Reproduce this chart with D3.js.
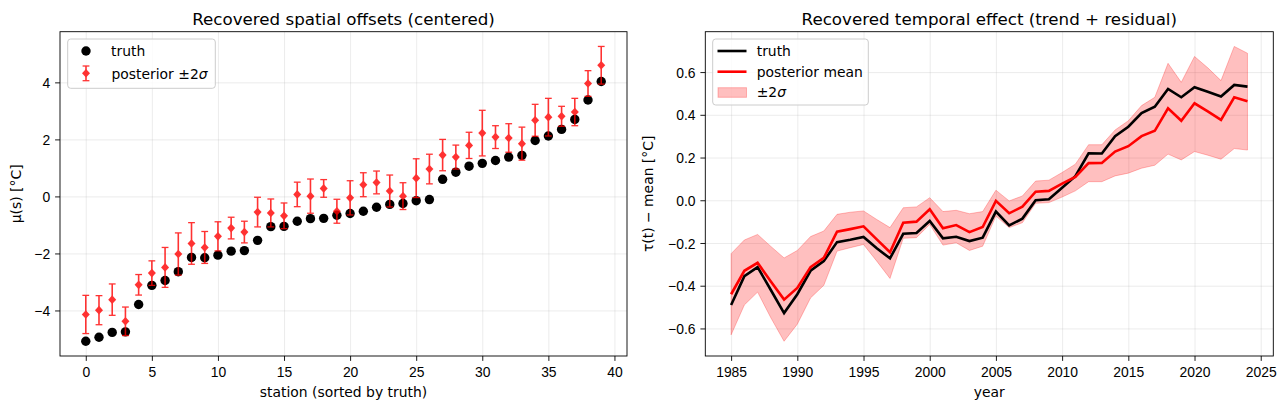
<!DOCTYPE html>
<html>
<head>
<meta charset="utf-8">
<script src="https://cdn.jsdelivr.net/npm/d3@7"></script>
<style>
  body { margin: 0; background: #fff; }
  svg { font-family: "DejaVu Sans", sans-serif; }
  .grid line { stroke: #b0b0b0; stroke-opacity: 0.3; stroke-width: 0.8px; }
  .grid path { stroke: none; }
  .axis text { font-size: 13.9px; fill: #000; }
  .axis path, .axis line { stroke: #000; stroke-width: 0.9px; }
</style>
</head>
<body>
<script>
// ---- left panel data: stations sorted by truth ----
var stations = d3.range(0, 40);
var muTruth = [-5.08, -4.94, -4.77, -4.75, -3.79, -3.12, -2.95, -2.64, -2.14, -2.15,
               -2.06, -1.92, -1.90, -1.54, -1.06, -1.05, -0.87, -0.78, -0.77, -0.66,
               -0.60, -0.52, -0.38, -0.28, -0.25, -0.15, -0.11, 0.60, 0.85, 1.06,
               1.16, 1.26, 1.38, 1.44, 1.96, 2.12, 2.35, 2.70, 3.38, 4.03];
var muPost = [-4.14, -3.99, -3.62, -4.38, -3.10, -2.69, -2.49, -2.02, -1.65, -1.79,
              -1.40, -1.11, -1.25, -0.55, -0.58, -0.68, 0.07, 0.01, 0.28, -0.52,
              -0.05, 0.41, 0.49, 0.19, 0.01, 0.64, 0.96, 1.45, 1.38, 1.79,
              2.22, 2.08, 2.05, 1.85, 2.67, 2.78, 2.81, 2.96, 3.96, 4.60];
var muErr2 = [0.67, 0.51, 0.55, 0.50, 0.36, 0.43, 0.70, 0.74, 0.73, 0.56,
              0.51, 0.38, 0.38, 0.52, 0.49, 0.45, 0.43, 0.60, 0.31, 0.42,
              0.60, 0.42, 0.40, 0.56, 0.47, 0.68, 0.52, 0.55, 0.42, 0.46,
              0.80, 0.40, 0.50, 0.58, 0.56, 0.66, 0.35, 0.48, 0.45, 0.66];
var xTicksL = [0, 5, 10, 15, 20, 25, 30, 35, 40];
var yTicksL = [-4, -2, 0, 2, 4];

// ---- right panel data: temporal effect ----
var years = d3.range(1985, 2025);
var tauTruth = [-0.490, -0.355, -0.313, -0.420, -0.528, -0.440, -0.330, -0.285, -0.196, -0.185,
                -0.172, -0.225, -0.272, -0.157, -0.153, -0.097, -0.178, -0.171, -0.191, -0.175,
                -0.053, -0.118, -0.086, 0.000, 0.005, 0.059, 0.113, 0.220, 0.219, 0.300,
                0.344, 0.408, 0.438, 0.521, 0.482, 0.529, 0.508, 0.486, 0.540, 0.532];
var tauMean = [-0.440, -0.330, -0.293, -0.380, -0.465, -0.410, -0.313, -0.270, -0.147, -0.135,
               -0.122, -0.183, -0.243, -0.105, -0.100, -0.042, -0.131, -0.116, -0.149, -0.125,
               -0.003, -0.061, -0.030, 0.040, 0.044, 0.078, 0.109, 0.174, 0.175, 0.228,
               0.253, 0.300, 0.325, 0.430, 0.372, 0.454, 0.416, 0.376, 0.482, 0.463];
var tauUpper = [-0.250, -0.186, -0.160, -0.216, -0.270, -0.235, -0.170, -0.144, -0.066, -0.056,
                -0.050, -0.090, -0.128, -0.035, -0.031, 0.012, -0.053, -0.047, -0.063, -0.053,
                0.047, -0.003, 0.020, 0.090, 0.094, 0.130, 0.169, 0.260, 0.260, 0.329,
                0.372, 0.443, 0.482, 0.641, 0.552, 0.673, 0.620, 0.560, 0.720, 0.688];
var tauLower = [-0.630, -0.490, -0.430, -0.550, -0.660, -0.580, -0.457, -0.398, -0.238, -0.222,
                -0.207, -0.285, -0.366, -0.178, -0.175, -0.113, -0.210, -0.199, -0.235, -0.215,
                -0.074, -0.128, -0.105, -0.014, -0.011, 0.015, 0.044, 0.087, 0.087, 0.114,
                0.127, 0.150, 0.164, 0.216, 0.189, 0.228, 0.211, 0.192, 0.242, 0.235];
var xTicksR = [1985, 1990, 1995, 2000, 2005, 2010, 2015, 2020, 2025];
var yTicksR = [-0.6, -0.4, -0.2, 0.0, 0.2, 0.4, 0.6];

var W = 1287, H = 409;
var svg = d3.select("body").append("svg").attr("width", W).attr("height", H);

// matplotlib style 5% margins
function padded(lo, hi) { var m = (hi - lo) * 0.05; return [lo - m, hi + m]; }

function panel(box, xdom, ydom, xticks, yticks, yfmt, title, xlabel, ylabel, ylabX) {
    var p = {};
    p.x = d3.scaleLinear().domain(xdom).range([box.l, box.r]);
    p.y = d3.scaleLinear().domain(ydom).range([box.b, box.t]);
    p.g = svg.append("g");
    var h = box.b - box.t, w = box.r - box.l;

    // grid
    p.g.append("g").attr("class", "grid")
        .attr("transform", "translate(0," + box.b + ")")
        .call(d3.axisBottom(p.x).tickValues(xticks.filter(function(t){ return t >= xdom[0] && t <= xdom[1]; }))
            .tickSize(-h).tickFormat(""));
    p.g.append("g").attr("class", "grid")
        .attr("transform", "translate(" + box.l + ",0)")
        .call(d3.axisLeft(p.y).tickValues(yticks).tickSize(-w).tickFormat(""));

    p.plot = p.g.append("g");

    // axes
    p.g.append("g").attr("class", "axis")
        .attr("transform", "translate(0," + box.b + ")")
        .call(d3.axisBottom(p.x).tickValues(xticks).tickSize(4.9).tickPadding(6.6).tickSizeOuter(0)
            .tickFormat(d3.format("d")))
        .call(function(a){ a.select(".domain").remove(); });
    p.g.append("g").attr("class", "axis")
        .attr("transform", "translate(" + box.l + ",0)")
        .call(d3.axisLeft(p.y).tickValues(yticks).tickSize(4.9).tickPadding(4.9).tickSizeOuter(0)
            .tickFormat(d3.format(yfmt)))
        .call(function(a){ a.select(".domain").remove(); a.selectAll("text").attr("dy", "0.36em"); });
    p.g.append("rect")
        .attr("x", box.l).attr("y", box.t).attr("width", w).attr("height", h)
        .attr("fill", "none").attr("stroke", "#000").attr("stroke-width", 0.9);

    p.g.append("text").attr("x", (box.l + box.r) / 2).attr("y", 24.5)
        .attr("text-anchor", "middle").style("font-size", "16.7px").text(title);
    p.g.append("text").attr("x", (box.l + box.r) / 2).attr("y", 397)
        .attr("text-anchor", "middle").style("font-size", "13.9px").text(xlabel);
    p.g.append("text")
        .attr("transform", "translate(" + ylabX + "," + ((box.t + box.b) / 2) + ") rotate(-90)")
        .attr("text-anchor", "middle").style("font-size", "13.9px").text(ylabel);
    return p;
}

// ---------------- left panel ----------------
var loL = d3.min(stations, function(i){ return Math.min(muTruth[i], muPost[i] - muErr2[i]); });
var hiL = d3.max(stations, function(i){ return Math.max(muTruth[i], muPost[i] + muErr2[i]); });
var L = panel({l: 60, r: 627, t: 31.7, b: 356}, padded(0, 39), padded(loL, hiL),
              xTicksL, yTicksL, "d", "Recovered spatial offsets (centered)",
              "station (sorted by truth)", "\u03bc(s) [\u00b0C]", 21);

// matplotlib 'D' marker: square turned 45 degrees
var diamond = d3.symbol().type(d3.symbolSquare).size(32);

L.plot.selectAll(".tdot").data(stations).enter().append("circle")
    .attr("cx", function(i){ return L.x(i); })
    .attr("cy", function(i){ return L.y(muTruth[i]); })
    .attr("r", 4.7).attr("fill", "#000");

var eb = L.plot.selectAll(".eb").data(stations).enter().append("g").attr("opacity", 0.8);
eb.append("line")
    .attr("x1", function(i){ return L.x(i); }).attr("x2", function(i){ return L.x(i); })
    .attr("y1", function(i){ return L.y(muPost[i] - muErr2[i]); })
    .attr("y2", function(i){ return L.y(muPost[i] + muErr2[i]); })
    .attr("stroke", "red").attr("stroke-width", 1.6);
[-1, 1].forEach(function(s) {
    eb.append("line")
        .attr("x1", function(i){ return L.x(i) - 3.4; }).attr("x2", function(i){ return L.x(i) + 3.4; })
        .attr("y1", function(i){ return L.y(muPost[i] + s * muErr2[i]); })
        .attr("y2", function(i){ return L.y(muPost[i] + s * muErr2[i]); })
        .attr("stroke", "red").attr("stroke-width", 1.3);
});
eb.append("path")
    .attr("d", diamond)
    .attr("transform", function(i){ return "translate(" + L.x(i) + "," + L.y(muPost[i]) + ") scale(1,1.08) rotate(45)"; })
    .attr("fill", "red");

// legend left
var lgL = svg.append("g");
lgL.append("rect").attr("x", 67.7).attr("y", 39).attr("width", 147.6).attr("height", 49.3)
    .attr("rx", 3).attr("fill", "rgba(255,255,255,0.8)").attr("stroke", "#cccccc");
lgL.append("circle").attr("cx", 86).attr("cy", 51).attr("r", 4.7).attr("fill", "#000");
lgL.append("text").attr("x", 111).attr("y", 56).style("font-size", "13.9px").text("truth");
var lgE = lgL.append("g").attr("opacity", 0.8);
lgE.append("line").attr("x1", 86).attr("x2", 86).attr("y1", 66).attr("y2", 80.7)
    .attr("stroke", "red").attr("stroke-width", 1.6);
[66, 80.7].forEach(function(yy) {
    lgE.append("line").attr("x1", 82.6).attr("x2", 89.4).attr("y1", yy).attr("y2", yy)
        .attr("stroke", "red").attr("stroke-width", 1.3);
});
lgE.append("path").attr("d", diamond)
    .attr("transform", "translate(86,73.3) scale(1,1.08) rotate(45)").attr("fill", "red");
var t2 = lgL.append("text").attr("x", 111.5).attr("y", 78.8).style("font-size", "13.9px");
t2.append("tspan").text("posterior \u00b12");
t2.append("tspan").style("font-style", "italic").text("\u03c3");

// ---------------- right panel ----------------
var loR = d3.min(tauLower.concat(tauTruth)), hiR = d3.max(tauUpper.concat(tauTruth));
var R = panel({l: 705.3, r: 1273.3, t: 31.7, b: 356}, padded(1985, 2024), padded(loR, hiR),
              xTicksR, yTicksR, ".1f", "Recovered temporal effect (trend + residual)",
              "year", "\u03c4(t) \u2212 mean [\u00b0C]", 652.5);

var band = d3.area()
    .x(function(d, i){ return R.x(years[i]); })
    .y0(function(d, i){ return R.y(tauLower[i]); })
    .y1(function(d, i){ return R.y(tauUpper[i]); });
R.plot.append("path").attr("d", band(years))
    .attr("fill", "rgba(255,0,0,0.25)").attr("stroke", "rgba(255,0,0,0.25)").attr("stroke-width", 1);

function tline(arr) {
    return d3.line().x(function(d, i){ return R.x(years[i]); })
        .y(function(d){ return R.y(d); })(arr);
}
R.plot.append("path").attr("d", tline(tauTruth))
    .attr("fill", "none").attr("stroke", "#000").attr("stroke-width", 2.6);
R.plot.append("path").attr("d", tline(tauMean))
    .attr("fill", "none").attr("stroke", "red").attr("stroke-width", 2.6);

// legend right
var lgR = svg.append("g");
lgR.append("rect").attr("x", 712.7).attr("y", 39).attr("width", 155.6).attr("height", 66)
    .attr("rx", 3).attr("fill", "rgba(255,255,255,0.8)").attr("stroke", "#cccccc");
lgR.append("line").attr("x1", 717.5).attr("x2", 746.5).attr("y1", 51).attr("y2", 51)
    .attr("stroke", "#000").attr("stroke-width", 2.6);
lgR.append("text").attr("x", 756.7).attr("y", 56.3).style("font-size", "13.9px").text("truth");
lgR.append("line").attr("x1", 717.5).attr("x2", 746.5).attr("y1", 71.7).attr("y2", 71.7)
    .attr("stroke", "red").attr("stroke-width", 2.6);
lgR.append("text").attr("x", 756.7).attr("y", 76.8).style("font-size", "13.9px").text("posterior mean");
lgR.append("rect").attr("x", 718).attr("y", 87.7).attr("width", 28.5).attr("height", 9.6)
    .attr("fill", "rgba(255,0,0,0.25)").attr("stroke", "rgba(255,0,0,0.25)");
var t3 = lgR.append("text").attr("x", 756.7).attr("y", 97.4).style("font-size", "13.9px");
t3.append("tspan").text("\u00b12");
t3.append("tspan").style("font-style", "italic").text("\u03c3");
</script>
</body>
</html>
